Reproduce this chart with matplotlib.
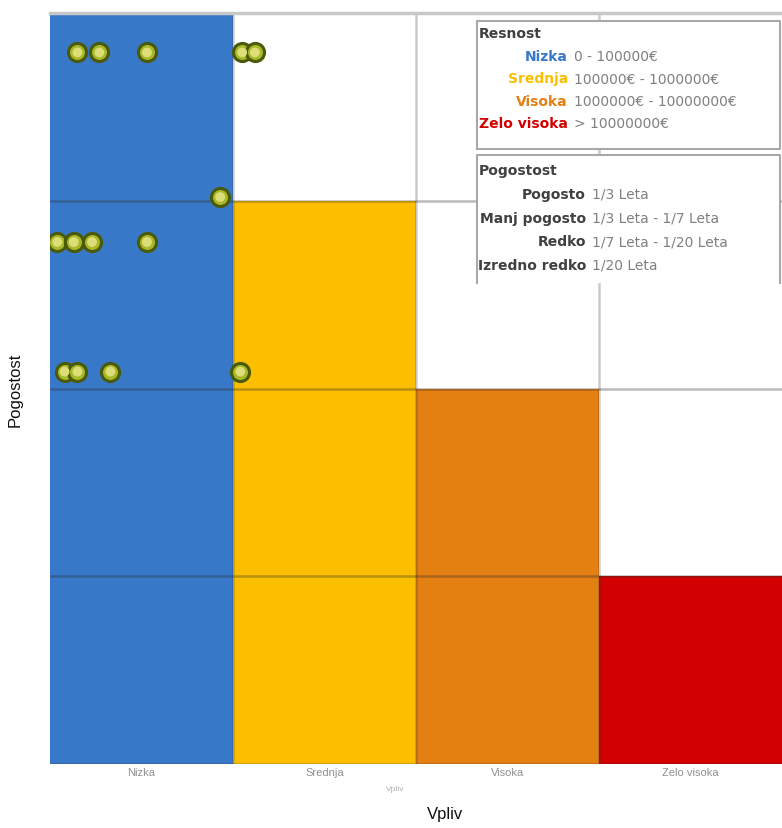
import matplotlib.pyplot as plt
from matplotlib.colors import ListedColormap
from matplotlib.patches import Rectangle
import numpy as np

plt.rcParams['font.family'] = ['Liberation Sans', 'DejaVu Sans']

# Risk matrix: severity level per cell, bottom row first (0 = empty)
levels = [
    [1, 2, 3, 4],
    [1, 2, 3, 0],
    [1, 2, 0, 0],
    [1, 0, 0, 0],
]
level_colors = ['#ffffff', '#3878c8', '#fcbf00', '#e47f12', '#d20000']

impact_labels = ['Nizka', 'Srednja', 'Visoka', 'Zelo visoka']

# risks: impact (x) and frequency (y) positions
risk_x = [0.15, 0.27, 0.53, 1.05, 1.12, 0.93, 0.04, 0.13, 0.23, 0.53, 0.08, 0.15, 0.33, 1.04]
risk_y = [3.79, 3.79, 3.79, 3.79, 3.79, 3.02, 2.78, 2.78, 2.78, 2.78, 2.09, 2.09, 2.09, 2.09]

severity_names = ['Nizka', 'Srednja', 'Visoka', 'Zelo visoka']
severity_ranges = ['0 - 100000€', '100000€ - 1000000€', '1000000€ - 10000000€', '> 10000000€']
frequency_names = ['Pogosto', 'Manj pogosto', 'Redko', 'Izredno redko']
frequency_ranges = ['1/3 Leta', '1/3 Leta - 1/7 Leta', '1/7 Leta - 1/20 Leta', '1/20 Leta']

fig = plt.figure(figsize=(7.82, 8.29), dpi=100)
ax = fig.add_axes([50 / 782, 64 / 829, 732 / 782, 751 / 829])

cmap = ListedColormap(level_colors)
ax.pcolormesh(np.arange(5), np.arange(5), np.array(levels), cmap=cmap, vmin=-0.5, vmax=4.5)

# cell borders: grey on white, darker over the colours
for v in range(1, 4):
    ax.axhline(v, color='#303030', alpha=0.33, lw=1.8, zorder=2)
    ax.axvline(v, color='#303030', alpha=0.25, lw=1.8, zorder=2)
ax.axhline(4, color='#c8c8c8', lw=2.5, zorder=2, clip_on=False)
ax.axhline(0, color='#303030', alpha=0.2, lw=1.5, zorder=2)

ax.scatter(risk_x, risk_y, s=170, marker='o', c='#a8b828', edgecolors='#4a5a08',
           linewidths=2.2, zorder=4)
ax.scatter(risk_x, risk_y, s=50, marker='o', c='#dede78', edgecolors='none', zorder=5)

ax.set_xlim(0, 4)
ax.set_ylim(0, 4)
ax.set_xticks([0.5, 1.5, 2.5, 3.5])
ax.set_xticklabels(impact_labels, fontsize=8, color='#909090')
ax.tick_params(axis='x', length=0, pad=2)
ax.set_yticks([])
for s in ax.spines.values():
    s.set_visible(False)

# legend boxes
def box(y0, y1, closed=True):
    ax.add_patch(Rectangle((0.583, y0), 0.414, y1 - y0, transform=ax.transAxes,
                           facecolor='white', edgecolor='none', zorder=6))
    xs = [0.583, 0.583, 0.997, 0.997]
    ys = [y0, y1, y1, y0]
    if closed:
        xs.append(0.583)
        ys.append(y0)
    ax.plot(xs, ys, transform=ax.transAxes, color='#a8a8a8', lw=1.5, zorder=7)

def px(y):
    return (765 - y) / 751

box(px(150), px(22))
box(px(284), px(156), closed=False)

lf = dict(transform=ax.transAxes, fontsize=10, family='DejaVu Sans', va='center', zorder=8)
tx = (477 - 50) / 732 + 0.003
ax.text(tx, px(34), 'Resnost', fontweight='bold', color='#404040', **lf)
for i, (n, r) in enumerate(zip(severity_names, severity_ranges)):
    y = px(57 + i * 22.5)
    ax.text((568 - 50) / 732, y, n, fontweight='bold', color=level_colors[i + 1], ha='right', **lf)
    ax.text((574 - 50) / 732, y, r, color='#808080', ha='left', **lf)

ax.text(tx, px(171), 'Pogostost', fontweight='bold', color='#404040', **lf)
for i, (n, r) in enumerate(zip(frequency_names, frequency_ranges)):
    y = px(195 + i * 23.5)
    ax.text((586 - 50) / 732, y, n, fontweight='bold', color='#404040', ha='right', **lf)
    ax.text((592 - 50) / 732, y, r, color='#808080', ha='left', **lf)

fig.text(395 / 782, 1 - 790 / 829, 'Vpliv', fontsize=6, color='#b0b0b0', ha='center', va='center')
fig.text(445 / 782, 1 - 815 / 829, 'Vpliv', fontsize=12, color='#111111', ha='center', va='center')
fig.text(15 / 782, 1 - 390 / 829, 'Pogostost', fontsize=12, color='#111111', ha='center',
         va='center', rotation=90)

fig.savefig('out.png', dpi=100)
